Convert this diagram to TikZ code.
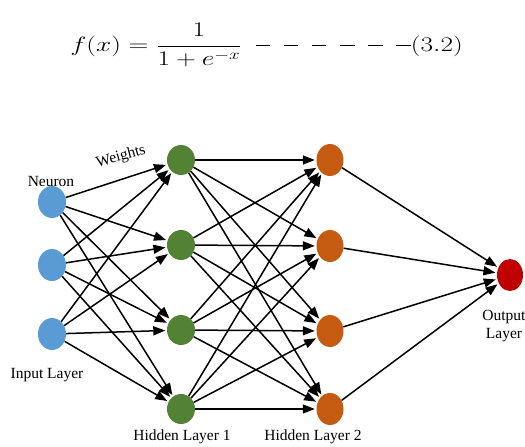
\documentclass[tikz,border=0pt]{standalone}
\usepackage{fontspec}
\setmainfont{Liberation Serif}
\usetikzlibrary{arrows.meta,shapes.geometric}

\definecolor{inblue}{HTML}{5B9BD5}
\definecolor{hidgreen}{HTML}{548235}
\definecolor{hidorange}{HTML}{C55A11}
\definecolor{outred}{HTML}{C00000}

% short dash on the math axis
\newcommand{\eqdash}{\hspace{0.47em}\rule[0.22em]{0.5em}{0.06em}}

\tikzset{
	neuron/.style={ellipse, minimum width=28pt, minimum height=32pt, inner sep=0pt},
	weight/.style={-{Triangle[length=12pt,width=9pt]}, line width=1.5pt, shorten >=1.5pt},
	lbl/.style={font=\fontsize{15.5}{18}\selectfont, inner sep=0pt}
}

\begin{document}
\begin{tikzpicture}[x=1pt, y=-1pt]
		\useasboundingbox (0,0) rectangle (525,447);

		% Sigmoid activation
		\node[anchor=base west, inner sep=0pt, xscale=1.32] (eq) at (70,51)
			{\fontsize{22}{26}\selectfont $\displaystyle f(x)=\frac{1}{1+e^{-x}}
			\eqdash\eqdash\eqdash\eqdash\eqdash\eqdash(3.2)$};

		% Input layer
		\node[neuron, fill=inblue] (in1) at (52,202) {};
		\node[neuron, fill=inblue] (in2) at (52,265) {};
		\node[neuron, fill=inblue] (in3) at (52,334) {};

		% Hidden layer 1
		\node[neuron, fill=hidgreen, minimum height=30pt] (hA1) at (181,160) {};
		\node[neuron, fill=hidgreen, minimum height=30pt] (hA2) at (181,245) {};
		\node[neuron, fill=hidgreen, minimum height=30pt] (hA3) at (181,330) {};
		\node[neuron, fill=hidgreen, minimum height=30pt] (hA4) at (181,409) {};

		% Hidden layer 2
		\node[neuron, fill=hidorange, minimum width=27pt] (hB1) at (330,160) {};
		\node[neuron, fill=hidorange, minimum width=27pt] (hB2) at (330,246) {};
		\node[neuron, fill=hidorange, minimum width=27pt] (hB3) at (330,331) {};
		\node[neuron, fill=hidorange, minimum width=27pt] (hB4) at (330,409) {};

		% Output layer
		\node[neuron, fill=outred, minimum width=26pt] (out) at (510,275) {};

		% Weights between the layers
		\foreach \i in {1,2,3}
			\foreach \j in {1,...,4}
				\draw[weight] (in\i) -- (hA\j);
		\foreach \i in {1,...,4}
			\foreach \j in {1,...,4}
				\draw[weight] (hA\i) -- (hB\j);
		\foreach \i in {1,...,4}
			\draw[weight] (hB\i) -- (out);

		% Labels
		\node[lbl, anchor=base] (lblNeuron) at (51,186) {Neuron};
		\node[lbl, rotate=15] (lblWeights) at (121,157) {Weights};
		\node[lbl, anchor=base] (lblIn) at (47,378) {Input Layer};
		\node[lbl, anchor=base] (lblHA) at (182,440) {Hidden Layer 1};
		\node[lbl, anchor=base] (lblHB) at (313,440) {Hidden Layer 2};
		\node[lbl, anchor=base, align=center] (lblOut) at (504,338) {Output\\Layer};

	\end{tikzpicture}
\end{document}
